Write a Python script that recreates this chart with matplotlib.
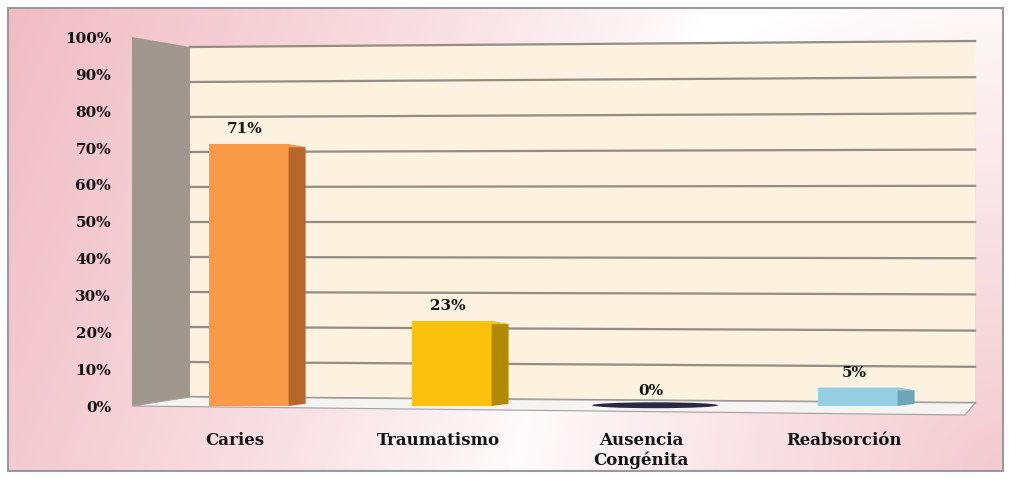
import numpy as np
import matplotlib.pyplot as plt
from matplotlib.patches import Polygon, Rectangle, Ellipse
from matplotlib.transforms import ScaledTranslation

W, H = 1009, 478

categories = ["Caries", "Traumatismo", "Ausencia\nCongénita", "Reabsorción"]
values = [71, 23, 0, 5]
value_labels = ["71%", "23%", "0%", "5%"]
yticks = list(range(0, 101, 10))
ytick_labels = [f"{v}%" for v in yticks]

front_colors = ["#f89a46", "#fcc10c", "#2a2944", "#93cfe0"]
side_colors = ["#b9662b", "#b08a04", "#171728", "#6aa6b6"]

FONT = {"family": "DejaVu Serif", "weight": "bold", "color": "#151515"}

fig = plt.figure(figsize=(W / 100, H / 100), dpi=100)

# ---- background: pink gradient inside a grey frame
bg = fig.add_axes([0, 0, 1, 1])
yy, xx = np.mgrid[0:H, 0:W]
left = np.clip(1 - (xx * 0.9 + yy * 0.35) / 640, 0, 1) ** 0.8
corner = np.clip(1 - np.hypot(xx - W, yy - H) / 520, 0, 1) ** 0.9
w = np.maximum(left * 0.95, corner * 0.75)
pink = np.array([0.94, 0.72, 0.755])
img = 1 - w[..., None] * (1 - pink)
img[:8, :] = 1
img[471:, :] = 1
img[:, :8] = 1
img[:, 1004:] = 1
bg.imshow(img, extent=[0, W, H, 0], aspect="auto")
bg.add_patch(Rectangle((8, 8), 995, 463, fill=False, ec="#9a9a9a", lw=1.5))
bg.set_xlim(0, W)
bg.set_ylim(H, 0)
bg.axis("off")

# ---- main axes, front plane of the 3D chart
X0, X1 = 132, 975
Y0, Y1 = 406, 37.5
C0, STEP = 249, 203
ax = fig.add_axes([X0 / W, 1 - Y0 / H, (X1 - X0) / W, (Y0 - Y1) / H])
ax.set_xlim((X0 - C0) / STEP, (X1 - C0) / STEP)
ax.set_ylim(0, 100)
ax.patch.set_visible(False)
for s in ax.spines.values():
    s.set_visible(False)

PXV = (Y0 - Y1) / 100


def px(x, y):
    # pixel position -> data coords of the front plane
    return ((x - C0) / STEP, (Y0 - y) / PXV)


def back(v, right=False):
    # pixel y of value v on the back wall (slight perspective)
    return 403 - 3.62 * v if right else 397 - 3.50 * v


# walls and floor
ax.add_patch(Polygon([px(190, back(0)), px(975, back(0, True)),
                      px(975, back(100, True)), px(190, back(100))],
                     closed=True, fc="#fdf1df", ec="none", zorder=0, clip_on=False))
for v in yticks:
    a, b = px(190, back(v)), px(975, back(v, True))
    ax.plot([a[0], b[0]], [a[1], b[1]], color="#938d83", lw=1.6, zorder=1,
            clip_on=False)
ax.add_patch(Polygon([px(132, 406), px(190, back(0)), px(190, back(100)), px(132, 37)],
                     closed=True, fc="#a0988f", ec="none", zorder=1, clip_on=False))
ax.add_patch(Polygon([px(132, 406), px(190, back(0)), px(975, back(0, True)), px(965, 415)],
                     closed=True, fc="#f6f3f3", ec="#a3a0a0", lw=0.8, zorder=1,
                     clip_on=False))

# bars
xs = np.arange(len(categories))
bw = 0.39
depth = 17 / STEP
drop = 0.8
ax.bar(xs, values, width=bw, color=front_colors, zorder=3)
for x, v, sc, fc in zip(xs, values, side_colors, front_colors):
    r = x + bw / 2
    if v > 0:
        ax.add_patch(Polygon([(r, 0), (r + depth, 0.6), (r + depth, v - drop), (r, v)],
                             closed=True, fc=sc, ec="none", zorder=3))
        ax.add_patch(Polygon([(x - bw / 2, v), (r, v), (r + depth, v - drop),
                              (x - bw / 2 + depth, v - drop)],
                             closed=True, fc=fc, ec="none", zorder=3))
    else:
        ax.add_patch(Ellipse((x, v + 0.2), 0.62, 1.6, fc=fc, ec="none", zorder=3,
                             clip_on=False))

for x, v, t in zip(xs, values, value_labels):
    ax.text(x - 0.02, v + 3.0, t, ha="center", va="baseline", fontsize=11,
            fontdict=FONT, zorder=4)

ax.set_yticks(yticks, ytick_labels)
ax.set_xticks(xs, categories)
ax.tick_params(axis="y", length=0, pad=15)
ax.tick_params(axis="x", length=0, pad=19)
shift = ScaledTranslation(-14 / 100, 0, fig.dpi_scale_trans)
for lab in ax.get_yticklabels():
    lab.set(fontfamily="DejaVu Serif", fontweight="bold", fontsize=11, color="#151515")
for lab in ax.get_xticklabels():
    lab.set(fontfamily="DejaVu Serif", fontweight="bold", fontsize=12, color="#151515",
            multialignment="center", linespacing=1.15)
    lab.set_transform(lab.get_transform() + shift)

fig.savefig("out.png", dpi=100)
